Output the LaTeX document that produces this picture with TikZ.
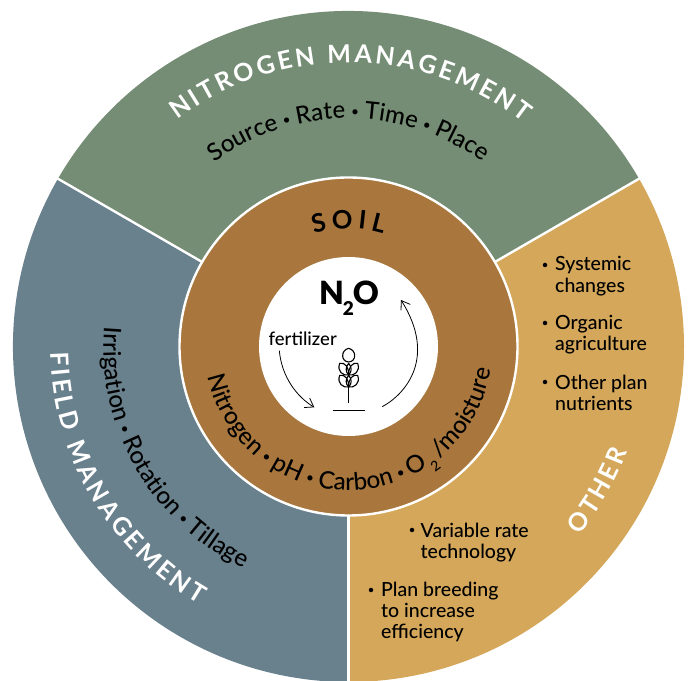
\documentclass[tikz,border=0pt]{standalone}
\usepackage{fontspec}
\setmainfont{Lato Medium}
\newfontfamily\capsfont{Lato Bold}
\newfontfamily\bulf{Liberation Sans}
\usetikzlibrary{decorations.text,arrows.meta,calc}
\definecolor{greenseg}{HTML}{758D75}
\definecolor{blueseg}{HTML}{69808D}
\definecolor{goldseg}{HTML}{D4A75A}
\definecolor{brownseg}{HTML}{A9773D}
\newcommand{\fs}[1]{\fontsize{#1}{#1}\selectfont}
\newcommand{\bl}{\bulf\fs{19}}
\newcommand{\tx}{\normalfont\fs{24}}
\newcommand{\ty}{\normalfont\fs{24.2}}
\newcommand{\capf}{\capsfont\fs{25}}
\newcommand{\soilf}{\capsfont\fs{25.5}}
\newdimen\ringw
\newbox\ringbox
\newcommand{\ringmeasure}[1]{\setbox\ringbox=\hbox{\pgfinterruptpicture #1\endpgfinterruptpicture}\global\ringw=\wd\ringbox\relax}
% #1 radius, #2 centre angle, #3 direction (-1 clockwise, +1 anticlockwise), #4 tracking, #5 font and colour, #6 letters
\newcommand{\ringtext}[6]{%
  \xdef\ringtotal{0}%
  \foreach \ch in {#6}{%
    \ringmeasure{#5\ch}%
    \pgfmathparse{\ringtotal+\the\ringw+#4}\xdef\ringtotal{\pgfmathresult}}%
  \pgfmathparse{#2-(#3)*0.5*(\ringtotal-#4)/(#1)*57.29578}\xdef\ringang{\pgfmathresult}%
  \foreach \ch [count=\ci] in {#6}{%
    \ringmeasure{#5\ch}%
    \pgfmathsetmacro{\ringmid}{\ringang+(#3)*0.5*\the\ringw/(#1)*57.29578}%
    \pgfmathsetmacro{\ringrot}{\ringmid+(#3)*90}%
    \pgfmathparse{\ringang+(#3)*(\the\ringw+#4)/(#1)*57.29578}\xdef\ringang{\pgfmathresult}%
    \node[anchor=base,inner sep=0pt,rotate=\ringrot,name=ring\ci] at ($(c)+(\ringmid:#1)$) {#5\ch};}%
}
\tikzset{
  x=1pt,y=1pt,
  sep/.style={draw=white,line width=2.4pt},
  item/.style={anchor=west,align=left,inner sep=0pt,text=black,font=\fontsize{19.5}{21.3}\selectfont},
  bul/.style={fill=black,circle,inner sep=0pt,minimum size=4.5pt},
  thin/.style={draw=black,line width=1.1pt},
  flow/.style={draw=black,line width=0.8pt,-{Straight Barb[length=8pt,width=11pt,line width=0.8pt]}},
}
\begin{document}
\begin{tikzpicture}
\useasboundingbox (0,0) rectangle (688,680);
\coordinate (c) at (348.5,333.5);
\def\R{335.5}
\fill[greenseg] (c) -- ++(30:\R) arc (30:150:\R) -- cycle;
\fill[blueseg] (c) -- ++(150:\R) arc (150:270:\R) -- cycle;
\fill[goldseg] (c) -- ++(270:\R) arc (-90:30:\R) -- cycle;
\coordinate (e1) at ($(c)+(30:337)$);
\coordinate (e2) at ($(c)+(150:337)$);
\coordinate (e3) at ($(c)+(270:337)$);
\draw[sep] (c) -- (e1);
\draw[sep] (c) -- (e2);
\draw[sep] (c) -- (e3);
\node[circle,fill=brownseg,draw=white,line width=2.4pt,minimum size=338pt,inner sep=0pt] (soil) at (c) {};
\node[circle,fill=white,minimum size=179pt,inner sep=0pt] (core) at (c) {};
% curved labels
\ringtext{284}{89.5}{-1}{3.0}{\capf\color{white}}{N,I,T,R,O,G,E,N,~,M,A,N,A,G,E,M,E,N,T}
\path[decorate,decoration={text along path,text align=center,text={|\tx|Source |\bl|•|\tx| Rate |\bl|•|\tx| Time |\bl|•|\tx| Place}}]
  ($(c)+(140:228)$) arc (140:40:228);
\ringtext{118}{90}{-1}{5}{\soilf\color{black}}{S,O,I,L}
\ringtext{298}{210.5}{1}{3.3}{\capf\color{white}}{F,I,E,L,D,~,M,A,N,A,G,E,M,E,N,T}
\path[decorate,decoration={text along path,text align=center,text={|\ty|Irrigation |\bl|•|\ty| Rotation |\bl|•|\ty| Tillage}}]
  ($(c)+(165.5:245)$) arc (165.5:254.5:245);
\ringtext{298}{-30}{1}{3.0}{\capf\color{white}}{O,T,H,E,R}
\path[decorate,decoration={text along path,text align=left,text={|\ty|Nitrogen |\bl|•|\ty| pH |\bl|•|\ty| Carbon |\bl|•|\ty| O}}]
  ($(c)+(192:144)$) arc (192:315:144);
\path[decorate,decoration={text along path,text align=left,text={|\ty|/moisture}}]
  ($(c)+(-51:144)$) arc (-51:-2:144);
\node[inner sep=0pt,rotate=36,font=\fs{14}] (sub) at ($(c)+(-54:148)$) {2};
% core
\node[inner sep=0pt,font=\fs{32}\bfseries] (no) at (349,382) {N\kern-1pt\raisebox{-11pt}{\fs{19}2}\kern-1pt O};
\node[inner sep=0pt,font=\fs{18.5}] (fert) at (302.7,341) {fertilizer};
\begin{scope}[xshift=180pt,yshift=500pt,x=0.33333pt,y=-0.33333pt]
\coordinate (a1) at (298,512);
\coordinate (a2) at (403,682);
\coordinate (b1) at (607,680);
\coordinate (b2) at (663,360);
\draw[flow] (a1) .. controls (305,590) and (350,650) .. (a2);
\draw[flow] (b1) .. controls (680,640) and (770,530) .. (b2);
\coordinate (g1) at (458,692);
\coordinate (g2) at (555,692);
\coordinate (s1) at (506,620);
\coordinate (s2) at (506,670);
\draw[thin] (g1) -- (g2);
\draw[thin] (s1) -- (s2);
\draw[thin] (506,505) .. controls (482,510) and (482,545) .. (506,546) .. controls (530,545) and (530,510) .. (506,505);
\foreach \yy in {0,36}{
  \begin{scope}[yshift={-0.33333*\yy*1pt}]
  \draw[thin] (506,585) .. controls (490,588) and (470,575) .. (479,550) .. controls (495,546) and (507,562) .. (506,585);
  \draw[thin] (506,585) .. controls (522,588) and (542,575) .. (533,550) .. controls (517,546) and (505,562) .. (506,585);
  \draw[thin] (506,550) .. controls (496,562) and (496,575) .. (506,585) .. controls (516,575) and (516,562) .. (506,550);
  \end{scope}
}
\end{scope}
% lists
\node[bul] (b1d) at (545,415) {};
\node[item] (i1) at (555,404) {Systemic\\changes};
\node[bul] (b2d) at (545,357) {};
\node[item] (i2) at (555,345.5) {Organic\\agriculture};
\node[bul] (b3d) at (545,298) {};
\node[item] (i3) at (555,287) {Other plan\\nutrients};
\node[bul] (b4d) at (412,150) {};
\node[item] (i4) at (420.5,137.5) {Variable rate\\technology};
\node[bul] (b5d) at (371,90) {};
\node[item] (i5) at (381,68) {Plan breeding\\to increase\\efficiency};
\end{tikzpicture}
\end{document}
